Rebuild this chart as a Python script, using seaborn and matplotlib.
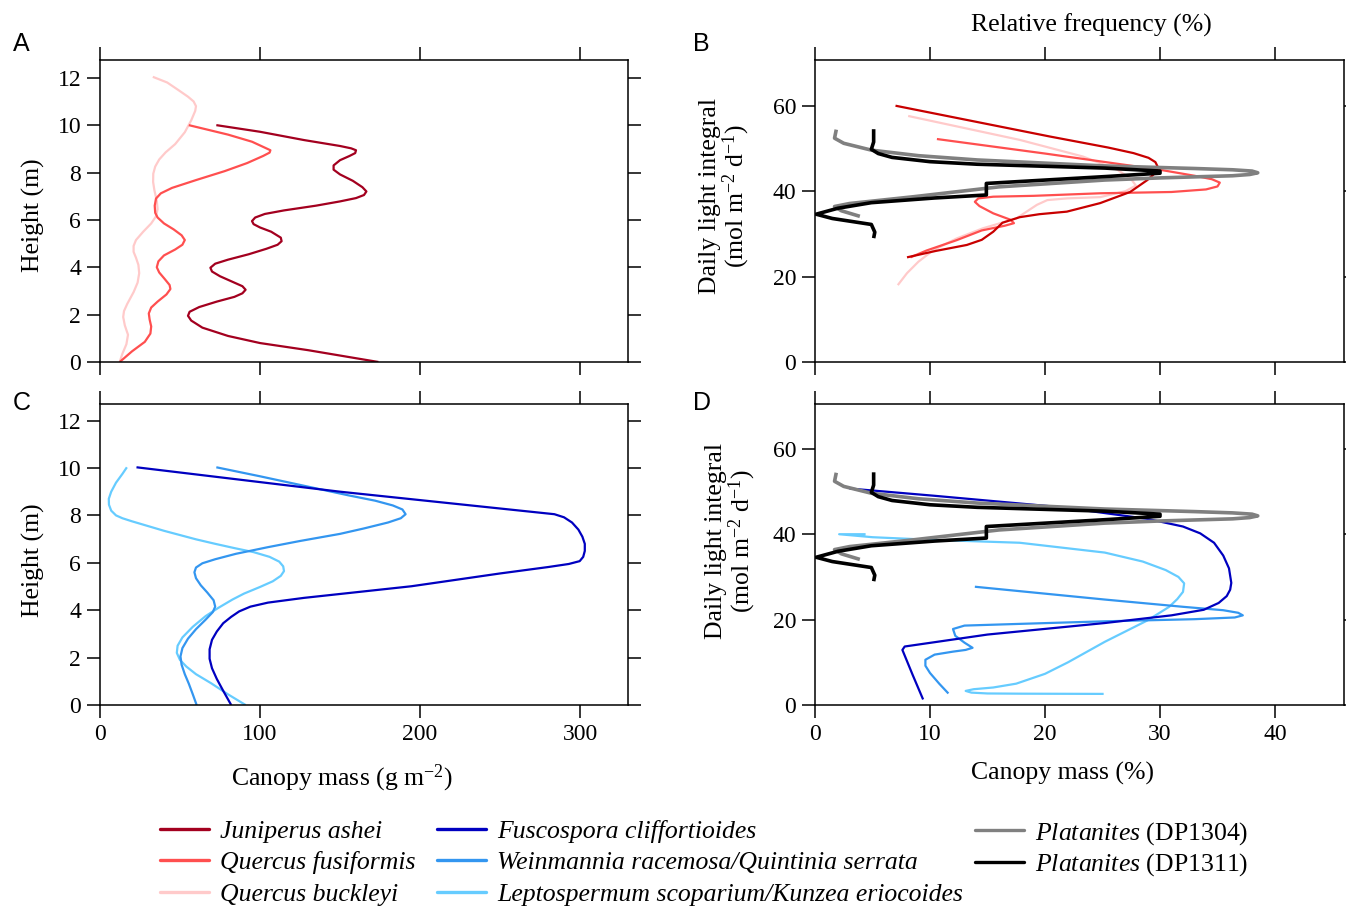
import matplotlib
matplotlib.use("Agg")
import matplotlib.pyplot as plt
import seaborn as sns
from matplotlib.lines import Line2D

# --- canopy mass profiles (panel A, Texas species) ---
juni_mass = [72.7, 100, 127.5, 150, 157, 160, 159.5, 156, 150, 146, 146, 150, 158, 164, 166.5, 165, 160, 150,
             135, 115, 103, 97, 95, 96, 100, 107, 113, 113.5, 111, 104, 93, 80, 72, 69, 70, 75, 83, 89, 91,
             89, 84, 73, 62, 56, 55, 57, 64, 80, 100, 130, 174]
juni_h = [10.0, 9.72, 9.37, 9.12, 9.02, 8.94, 8.82, 8.7, 8.52, 8.3, 8.12, 7.92, 7.65, 7.38, 7.2, 7.05, 6.92,
          6.78, 6.6, 6.4, 6.25, 6.1, 5.95, 5.82, 5.68, 5.5, 5.25, 5.1, 4.95, 4.78, 4.55, 4.32, 4.15, 3.98,
          3.82, 3.62, 3.38, 3.2, 3.05, 2.9, 2.75, 2.55, 2.32, 2.12, 1.95, 1.75, 1.45, 1.1, 0.8, 0.5, 0.0]

qfus_mass = [55.5, 80, 95, 103, 106.5, 106, 102, 92, 78, 60, 45, 38, 35, 34.2, 34.5, 36, 40, 46, 51, 53,
             51.5, 47, 40, 36.5, 35.5, 37, 40.5, 43.5, 44, 41.5, 36, 32, 30.5, 31, 32, 31.5, 28, 20, 12.3]
qfus_h = [10.0, 9.6, 9.3, 9.05, 8.94, 8.84, 8.7, 8.4, 8.06, 7.68, 7.35, 7.12, 6.9, 6.6, 6.3, 6.1, 5.85, 5.6,
          5.35, 5.15, 4.95, 4.75, 4.5, 4.25, 4.0, 3.78, 3.5, 3.25, 3.08, 2.85, 2.55, 2.3, 2.05, 1.8, 1.5, 1.2,
          0.85, 0.45, 0.0]

qbuc_mass = [33, 42, 49, 55, 58.5, 60, 59.5, 57, 53, 47, 41, 37, 34.5, 33.3, 33.2, 34, 35.5, 36, 35, 32, 27,
             22.5, 21, 21, 22.5, 24, 24.5, 23.5, 21, 17, 15, 14.5, 15.5, 17.5, 16.5, 14, 12.3]
qbuc_h = [12.04, 11.8, 11.48, 11.2, 11.0, 10.8, 10.6, 10.2, 9.7, 9.2, 8.85, 8.55, 8.25, 7.95, 7.6, 7.25, 6.8,
          6.45, 6.15, 5.85, 5.5, 5.15, 4.9, 4.65, 4.4, 4.1, 3.75, 3.35, 2.95, 2.45, 2.15, 1.9, 1.55, 1.15,
          0.75, 0.35, 0.0]

# --- canopy mass profiles (panel C, New Zealand species) ---
fusc_mass = [22.8, 150, 284, 290, 295, 299, 301.5, 303, 303, 302, 299.8, 293, 280, 250, 194.6, 127.5, 105,
             94, 87, 82, 77, 73, 70, 68.5, 68.5, 70, 73, 77, 82]
fusc_h = [10.03, 9.0, 8.05, 7.92, 7.7, 7.4, 7.1, 6.8, 6.5, 6.25, 6.07, 5.95, 5.82, 5.55, 5.01, 4.52, 4.32,
          4.15, 3.95, 3.72, 3.45, 3.1, 2.75, 2.35, 1.95, 1.55, 1.1, 0.6, 0.0]

wein_mass = [72.7, 100, 127.5, 155, 172, 183, 189, 191, 188, 180, 165, 150, 125, 105, 85, 72, 64, 60, 59,
             60, 63, 67, 71, 72, 70.5, 66, 60, 55, 51.5, 50.3, 51, 53, 55.5, 58, 60.4]
wein_h = [10.03, 9.65, 9.25, 8.85, 8.62, 8.42, 8.25, 8.05, 7.88, 7.7, 7.45, 7.22, 6.92, 6.66, 6.38, 6.15,
          5.98, 5.8, 5.6, 5.35, 5.05, 4.75, 4.42, 4.15, 3.92, 3.6, 3.2, 2.8, 2.4, 2.05, 1.7, 1.3, 0.9, 0.45,
          0.0]

lept_mass = [16.8, 14, 10, 7, 5.5, 5.6, 7, 10, 14, 20, 30, 40, 50, 60, 72, 84, 96, 106, 112, 114.5, 115,
             113, 108, 100, 90, 82.8, 74, 66, 58, 51.5, 48.5, 48, 50, 54, 60, 69.4, 80, 91]
lept_h = [10.03, 9.75, 9.38, 9.0, 8.7, 8.45, 8.2, 8.0, 7.88, 7.75, 7.55, 7.35, 7.17, 6.99, 6.8, 6.62, 6.45,
          6.25, 6.05, 5.85, 5.65, 5.45, 5.22, 4.98, 4.7, 4.45, 4.1, 3.75, 3.3, 2.85, 2.5, 2.2, 1.9, 1.62,
          1.3, 0.92, 0.45, 0.0]

# --- relative canopy mass vs daily light integral (panels B and D) ---
juni_pct = [7.0, 20.4, 25.5, 27.7, 29.0, 29.6, 29.8, 29.6, 28.9, 27.4, 26.3, 24.8, 21.9, 19.5, 17.8, 16.3,
            15.5, 14.5, 13.2, 10.5, 8.0]
juni_dli = [60.0, 52.8, 50.2, 48.9, 47.8, 46.8, 45.7, 44.3, 42.6, 39.8, 38.7, 37.2, 35.2, 34.6, 33.9, 32.6,
            30.5, 28.6, 27.4, 26.0, 24.5]

qfus_pct = [10.6, 20, 30, 33.0, 34.5, 35.2, 35.0, 34.0, 31, 24.8, 19, 15.5, 14.2, 13.9, 14.3, 15.5, 17.0,
            17.3, 16.5, 14.5, 12.3, 9.7, 8.3]
qfus_dli = [52.2, 48.8, 45.0, 43.6, 42.8, 42.0, 41.1, 40.4, 39.8, 39.5, 38.9, 38.7, 38.3, 37.5, 36.5, 34.8,
            33.3, 32.5, 31.9, 30.8, 28.5, 26.1, 24.5]

qbuc_pct = [8.1, 17.8, 23.3, 26.3, 27.5, 27.9, 27.0, 24.8, 21.9, 20.2, 19.3, 17.5, 14.6, 12.3, 10.3, 9.0, 8.0,
            7.2]
qbuc_dli = [57.6, 52.0, 48.1, 45.0, 42.8, 41.3, 40.0, 38.6, 38.3, 37.9, 36.8, 33.6, 31.3, 28.9, 26.2, 23.5,
            20.8, 18.0]

fusc_pct = [9.4, 8.5, 7.6, 7.8, 15, 25.2, 31.0, 33.8, 35.1, 35.8, 36.1, 36.2, 36.0, 35.5, 34.7, 33.5, 32.0,
            28.9, 21.5, 10.4, 3.0]
fusc_dli = [1.3, 7, 12.9, 13.7, 16.5, 19.2, 21.0, 22.3, 23.9, 25.5, 27.0, 28.6, 32, 35, 38.0, 40.2, 41.8,
            43.6, 46.3, 49.0, 50.7]

wein_pct = [13.9, 25.2, 32, 35.5, 36.8, 37.2, 36.5, 33, 25.2, 17.8, 13, 12.0, 12.2, 13.0, 13.7, 13.1, 12.0,
            10.4, 9.6, 9.6, 10.0, 10.8, 11.6]
wein_dli = [27.7, 24.7, 23.0, 22.2, 21.6, 21.0, 20.5, 20.1, 19.6, 19.0, 18.6, 17.8, 16.2, 14.6, 13.4, 12.9,
            12.5, 11.8, 10.6, 9.2, 7.5, 5.0, 2.7]

lept_pct = [4.4, 2.1, 5, 10, 17.8, 25.2, 28.5, 30.5, 31.6, 32.1, 32.0, 31.5, 30.8, 28.9, 25.2, 22, 20.0, 17.5,
            15.5, 13.8, 13.1, 13.6, 15, 18, 25.1]
lept_dli = [40.0, 40.0, 39.3, 38.7, 38.0, 35.7, 33.6, 31.6, 30.0, 28.5, 26.5, 24.8, 23.0, 19.8, 14.8, 10, 7.3,
            5.0, 4.1, 3.7, 3.3, 2.9, 2.7, 2.65, 2.6]

p1304_pct = [1.85, 1.7, 2.5, 4.9, 9, 14.1, 25.2, 33, 36.3, 38.0, 38.5, 37.8, 36.3, 30, 25.2, 16, 8.6, 3, 1.7,
             2.3, 3.9]
p1304_dli = [54.4, 52.4, 51.2, 49.6, 48.3, 47.3, 45.9, 45.3, 45.0, 44.7, 44.3, 43.9, 43.6, 43.1, 42.6, 41.0,
             38.7, 37.1, 36.4, 35.4, 34.1]

p1311_pct = [5.1, 5.1, 4.9, 5.5, 6.7, 10, 14.1, 25.2, 30.0, 30.0, 25.2, 14.9, 14.9, 10.4, 4.9, 2, 0.1, 1.5,
             4.9, 5.2, 5.1]
p1311_dli = [54.5, 51.5, 49.8, 48.8, 47.9, 46.9, 46.3, 45.4, 44.7, 44.2, 43.4, 41.8, 39.1, 38.4, 37.3, 36.0,
             34.6, 33.6, 32.2, 30.4, 29.0]

c_juni_a = "#a3001f"
c_juni_b = "#c80000"
c_qfus = "#ff4f4f"
c_qbuc = "#ffcaca"
c_fusc = "#0000c0"
c_wein = "#3396f0"
c_lept = "#66ccff"
c_p1304 = "#808080"
c_p1311 = "#000000"

sns.set_style("ticks")
plt.rcParams["font.family"] = ["Liberation Serif", "DejaVu Serif"]
plt.rcParams["mathtext.fontset"] = "custom"
plt.rcParams["mathtext.rm"] = "Liberation Serif"
plt.rcParams["mathtext.it"] = "Liberation Serif:italic"
for key in ["text.color", "axes.labelcolor", "xtick.color", "ytick.color", "axes.edgecolor"]:
    plt.rcParams[key] = "black"

W, H = 1346, 908
fig = plt.figure(figsize=(W / 100, H / 100), dpi=100)


def box(x0, y0, x1, y1):
    return [x0 / W, 1 - y1 / H, (x1 - x0) / W, (y1 - y0) / H]


axA = fig.add_axes(box(100, 60, 628, 362))
axB = fig.add_axes(box(815, 60, 1344, 362))
axC = fig.add_axes(box(100, 404, 628, 705))
axD = fig.add_axes(box(815, 404, 1344, 705))


def curve(ax, x, y, color, lw):
    sns.lineplot(x=x, y=y, sort=False, estimator=None, color=color, linewidth=lw, ax=ax,
                 solid_joinstyle="round", solid_capstyle="butt")


# panel A
curve(axA, qbuc_mass, qbuc_h, c_qbuc, 1.6)
curve(axA, qfus_mass, qfus_h, c_qfus, 1.6)
curve(axA, juni_mass, juni_h, c_juni_a, 1.6)

# panel C
curve(axC, lept_mass, lept_h, c_lept, 1.6)
curve(axC, wein_mass, wein_h, c_wein, 1.6)
curve(axC, fusc_mass, fusc_h, c_fusc, 1.6)

# panel B
curve(axB, qbuc_pct, qbuc_dli, c_qbuc, 1.6)
curve(axB, qfus_pct, qfus_dli, c_qfus, 1.6)
curve(axB, juni_pct, juni_dli, c_juni_b, 1.6)
curve(axB, p1304_pct, p1304_dli, c_p1304, 2.6)
curve(axB, p1311_pct, p1311_dli, c_p1311, 2.6)

# panel D
curve(axD, lept_pct, lept_dli, c_lept, 1.6)
curve(axD, wein_pct, wein_dli, c_wein, 1.6)
curve(axD, fusc_pct, fusc_dli, c_fusc, 1.6)
curve(axD, p1304_pct, p1304_dli, c_p1304, 2.6)
curve(axD, p1311_pct, p1311_dli, c_p1311, 2.6)


def style(ax, xlim, ylim, xticks, yticks, xlabels):
    ax.set_xlim(*xlim)
    ax.set_ylim(*ylim)
    ax.set_xticks(xticks)
    ax.set_yticks(yticks)
    ax.set_xlabel("")
    ax.set_ylabel("")
    ax.tick_params(direction="out", length=9.5, width=1.1, top=True, right=True,
                   labelsize=17, pad=4, colors="black", labelbottom=xlabels)
    for s in ax.spines.values():
        s.set_visible(True)
        s.set_linewidth(1.1)
        s.set_color("black")


style(axA, (0, 330), (0, 12.75), [0, 100, 200, 300], range(0, 13, 2), False)
style(axC, (0, 330), (0, 12.7), [0, 100, 200, 300], range(0, 13, 2), True)
style(axB, (0, 46), (0, 70.7), [0, 10, 20, 30, 40], [0, 20, 40, 60], False)
style(axD, (0, 46), (0, 70.5), [0, 10, 20, 30, 40], [0, 20, 40, 60], True)

lab = 18.5
for ax, yc in [(axA, 0.487), (axC, 0.482)]:
    ax.set_ylabel("Height (m)", fontsize=lab)
    ax.yaxis.set_label_coords(-0.104, yc)

axB.set_ylabel("Daily light integral\n(mol m$^{-2}$ d$^{-1}$)", fontsize=lab, linespacing=1.0)
axB.yaxis.set_label_coords(-0.119, 0.55)
axD.set_ylabel("Daily light integral\n(mol m$^{-2}$ d$^{-1}$)", fontsize=lab, linespacing=1.0)
axD.yaxis.set_label_coords(-0.108, 0.545)

axC.set_xlabel("Canopy mass (g m$^{-2}$)", fontsize=lab)
axC.xaxis.set_label_coords(0.458, -0.19)
axD.set_xlabel("Canopy mass (%)", fontsize=lab)
axD.xaxis.set_label_coords(0.467, -0.19)

axB.xaxis.set_label_position("top")
axB.set_xlabel("Relative frequency (%)", fontsize=lab)
axB.xaxis.set_label_coords(0.522, 1.095)

for letter, px, py in [("A", 13, 51), ("B", 693, 51), ("C", 13, 410), ("D", 693, 410)]:
    fig.text(px / W, 1 - py / H, letter, fontsize=18, family="Liberation Sans",
             ha="left", va="baseline")

# legend in three hand-placed columns
groups = [
    (160, 0.33, [("Juniperus ashei", c_juni_a), ("Quercus fusiformis", c_qfus), ("Quercus buckleyi", c_qbuc)]),
    (437, 0.33, [("Fuscospora cliffortioides", c_fusc), ("Weinmannia racemosa/Quintinia serrata", c_wein),
                 ("Leptospermum scoparium/Kunzea eriocoides", c_lept)]),
    (975, 0.18, [("Platanites $\\mathrm{(DP1304)}$", c_p1304), ("Platanites $\\mathrm{(DP1311)}$", c_p1311)]),
]
for px, spacing, items in groups:
    handles = [Line2D([], [], color=c, lw=2.4) for _, c in items]
    labels = [t for t, _ in items]
    fig.legend(handles, labels, loc="upper left", bbox_to_anchor=(px / W, 1 - 820 / H),
               frameon=False, borderpad=0, borderaxespad=0, handlelength=1.9, handletextpad=0.45,
               labelspacing=spacing,
               prop={"family": "Liberation Serif", "style": "italic", "size": lab})

fig.savefig("out.png", dpi=100)
